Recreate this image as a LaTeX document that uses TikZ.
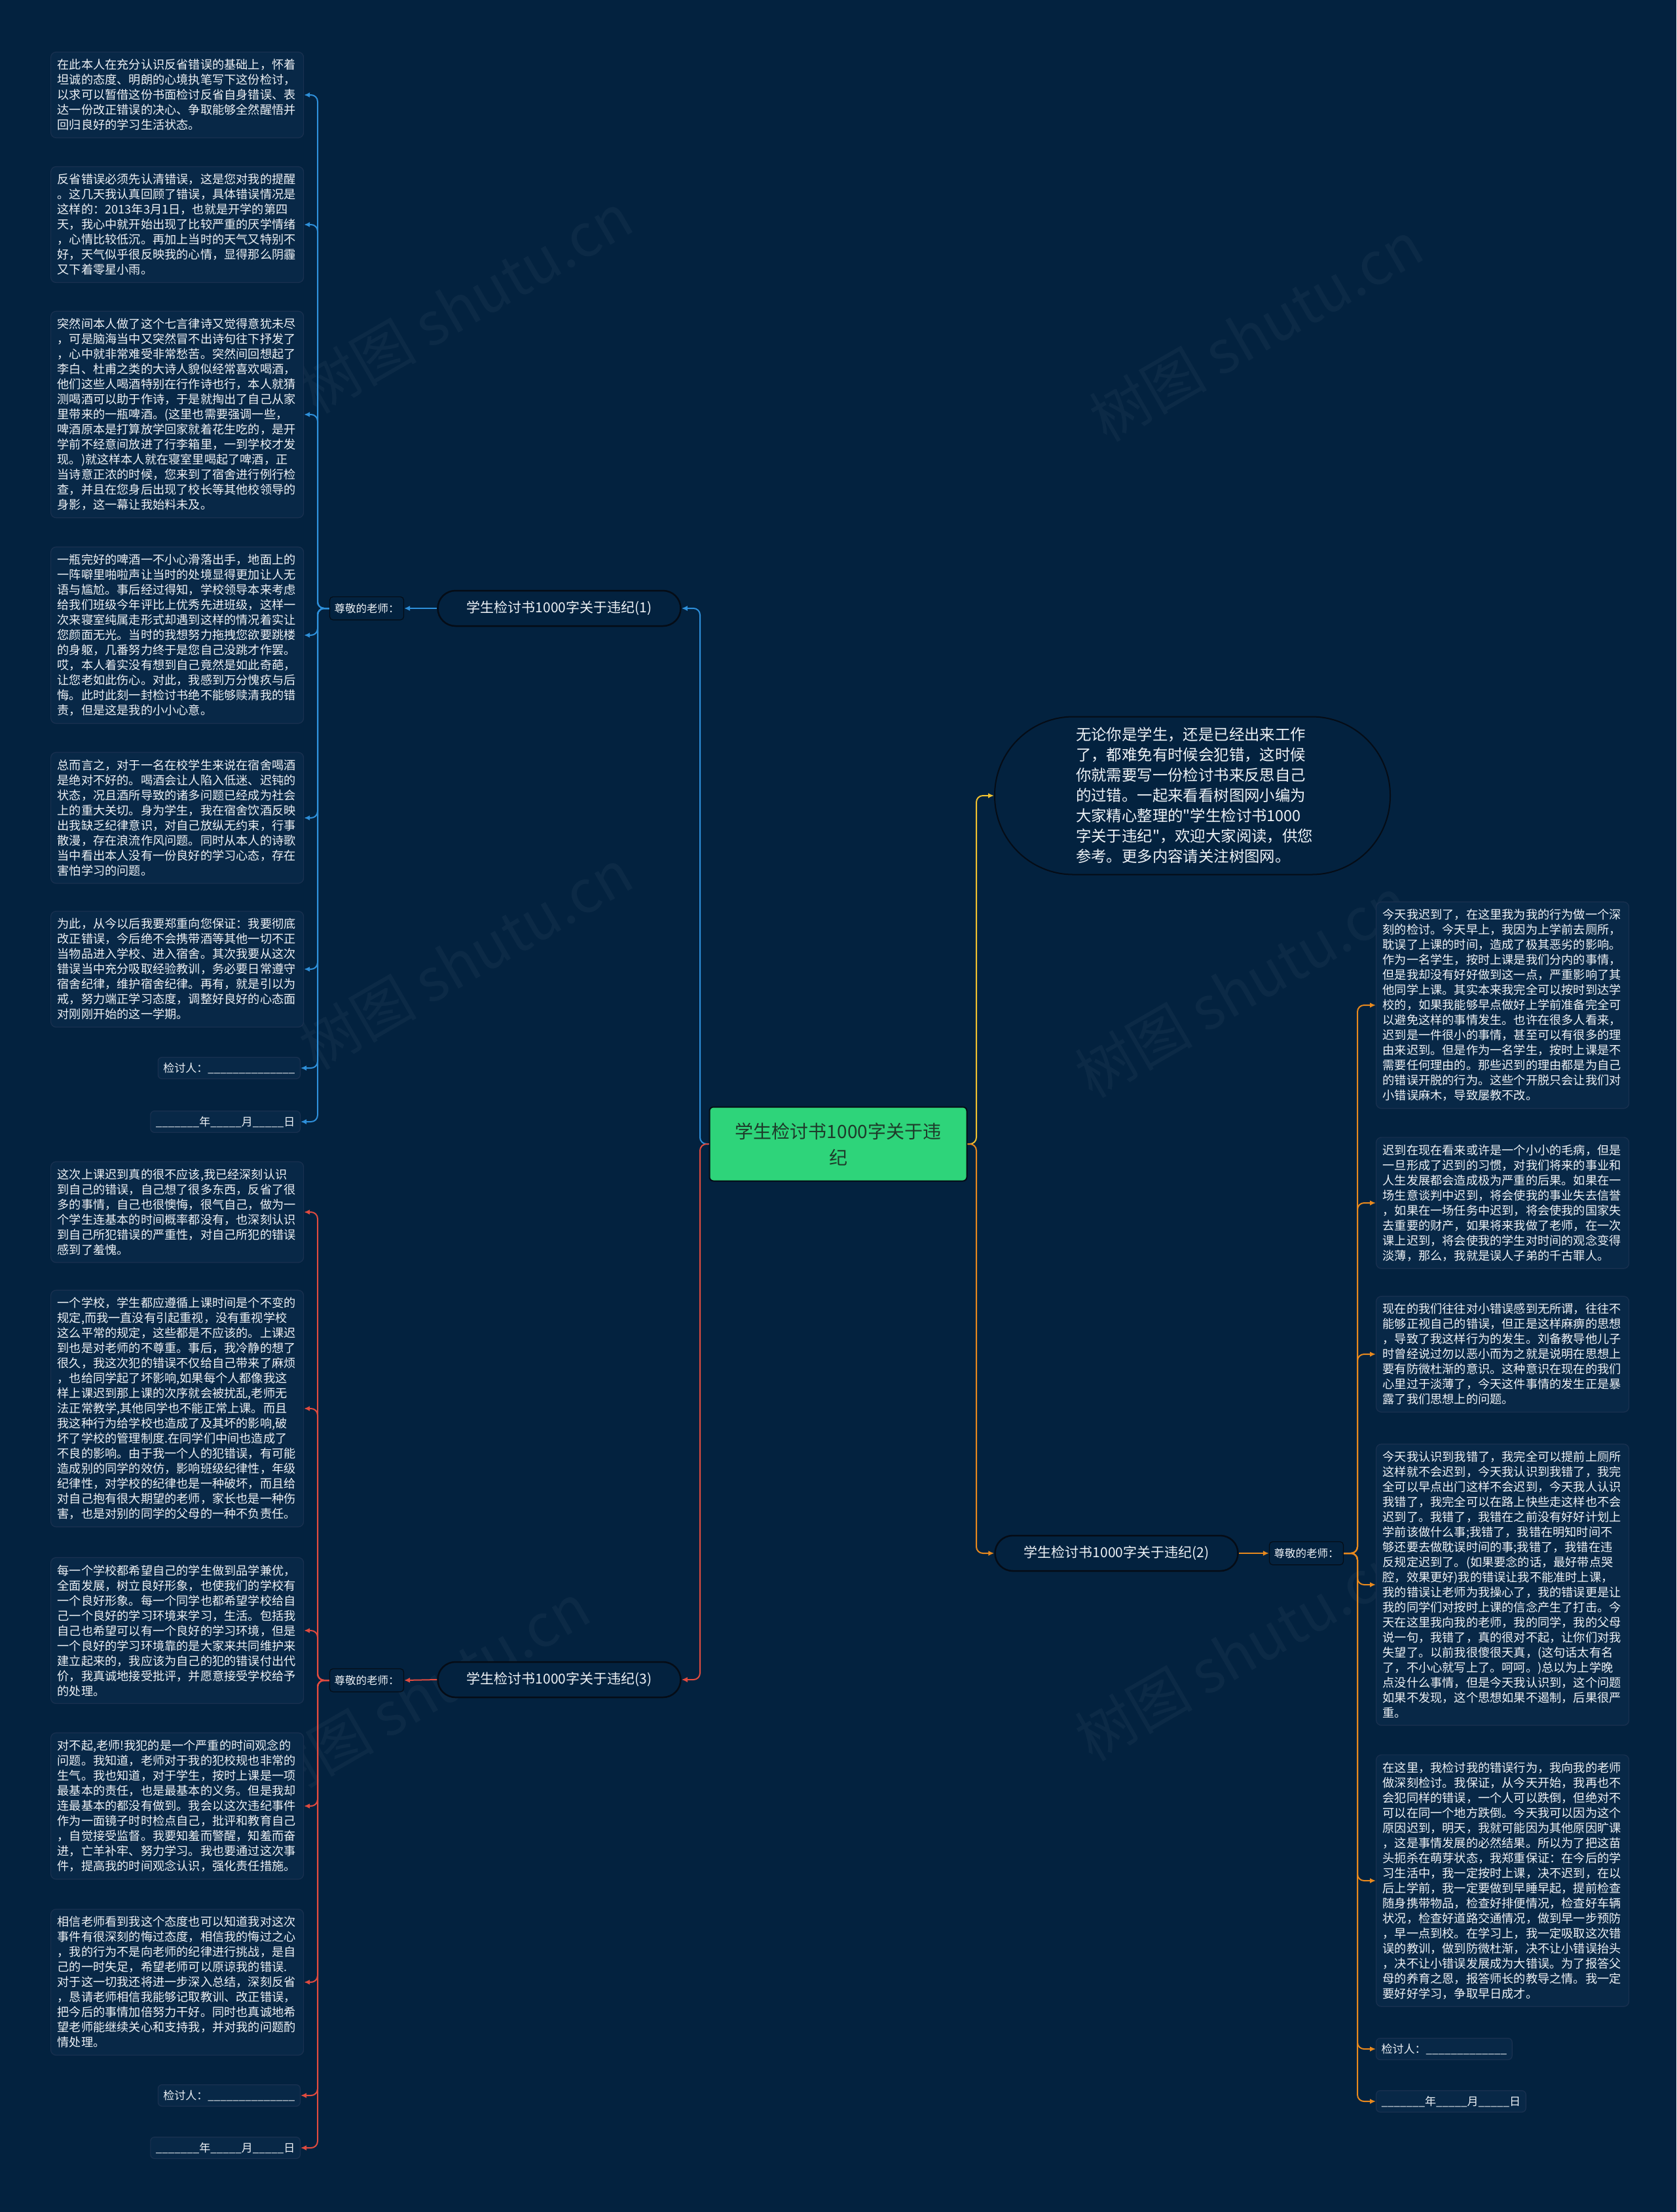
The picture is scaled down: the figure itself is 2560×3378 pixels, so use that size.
\documentclass[tikz,border=0pt]{standalone}
\usepackage{fontspec}
\setmainfont{Noto Sans CJK SC}[Ligatures=TeXOff]
\usetikzlibrary{arrows.meta}
\definecolor{bg}{HTML}{03223F}
\definecolor{boxfill}{HTML}{082847}
\definecolor{boxline}{HTML}{1A3150}
\definecolor{txtcol}{HTML}{EEF2F6}
\definecolor{cblue}{HTML}{2E8FD9}
\definecolor{cred}{HTML}{E04B3F}
\definecolor{corange}{HTML}{E8891E}
\definecolor{cyellow}{HTML}{F2C230}
\definecolor{cgreen}{HTML}{2ED47A}
\definecolor{pillline}{HTML}{050C16}
\definecolor{centertxt}{HTML}{1E3A2A}
\tikzset{
  txtbox/.style={draw=boxline, fill=boxfill, rounded corners=8pt, line width=1.2pt,
    inner xsep=10pt, inner ysep=11pt, text width=366pt, align=left,
    font=\fontsize{18.2}{23}\selectfont, text=txtcol},
  signbox/.style={draw=boxline, fill=boxfill, rounded corners=6pt, line width=1.2pt,
    inner xsep=8pt, inner ysep=8pt, font=\fontsize{17}{20}\selectfont, text=txtcol},
  labbox/.style={draw=pillline, fill=bg, line width=1.2pt, rounded corners=5pt, inner xsep=7pt, inner ysep=10pt,
    font=\fontsize{16.5}{20}\selectfont, text=txtcol},
  pill/.style={draw=pillline, fill=bg, line width=2.5pt, rounded corners=27pt,
    minimum width=371pt, minimum height=54pt, font=\fontsize{21}{24}\selectfont, text=txtcol},
  conn/.style={line width=2pt, rounded corners=10pt, -{Latex[length=9pt,width=8pt]}},
  wmark/.style={rotate=30, text=white, opacity=0.04, font=\fontsize{90}{90}\selectfont}
}
\begin{document}
\begin{tikzpicture}[x=1pt,y=-1pt]
\fill[bg] (0,0) rectangle (2560,3378);
\useasboundingbox (0,0) rectangle (2560,3378);

% watermarks
\foreach \p in {(711,463),(1918,506),(711,1465),(1896,1508),(646,2586),(1896,2521)}
  \node[wmark] at \p {树图 shutu.cn};

% central
\node[draw=pillline, line width=2pt, fill=cgreen, rounded corners=6pt, minimum width=393pt, minimum height=113pt, align=center,
  text=centertxt, font=\fontsize{28}{40}\selectfont] (center) at (1280,1747) {学生检讨书1000字关于违\\纪};

% intro
\node[draw=pillline, fill=bg, line width=2pt, rounded corners=120pt, minimum width=604pt,
  minimum height=241pt, text width=356pt, align=left, text=txtcol,
  font=\fontsize{23.4}{31}\selectfont] (intro) at (1821,1215)
  {无论你是学生，还是已经出来工作\\了，都难免有时候会犯错，这时候\\你就需要写一份检讨书来反思自己\\的过错。一起来看看树图网小编为\\大家精心整理的"学生检讨书1000\\字关于违纪"，欢迎大家阅读，供您\\参考。更多内容请关注树图网。};

% branches
\node[pill] (br1) at (854,929) {学生检讨书1000字关于违纪(1)};
\node[pill] (br3) at (854,2565) {学生检讨书1000字关于违纪(3)};
\node[pill] (br2) at (1705,2372) {学生检讨书1000字关于违纪(2)};
\node[labbox] (lab1) at (560,929) {尊敬的老师：};
\node[labbox] (lab3) at (560,2566) {尊敬的老师：};
\node[labbox] (lab2) at (1995,2372) {尊敬的老师：};

% left top blocks
\node[txtbox, anchor=west] (A1) at (77,145) {在此本人在充分认识反省错误的基础上，怀着\\坦诚的态度、明朗的心境执笔写下这份检讨，\\以求可以暂借这份书面检讨反省自身错误、表\\达一份改正错误的决心、争取能够全然醒悟并\\回归良好的学习生活状态。};
\node[txtbox, anchor=west] (A2) at (77,343) {反省错误必须先认清错误，这是您对我的提醒\\。这几天我认真回顾了错误，具体错误情况是\\这样的：2013年3月1日，也就是开学的第四\\天，我心中就开始出现了比较严重的厌学情绪\\，心情比较低沉。再加上当时的天气又特别不\\好，天气似乎很反映我的心情，显得那么阴霾\\又下着零星小雨。};
\node[txtbox, anchor=west] (A3) at (77,633) {突然间本人做了这个七言律诗又觉得意犹未尽\\，可是脑海当中又突然冒不出诗句往下抒发了\\，心中就非常难受非常愁苦。突然间回想起了\\李白、杜甫之类的大诗人貌似经常喜欢喝酒，\\他们这些人喝酒特别在行作诗也行，本人就猜\\测喝酒可以助于作诗，于是就掏出了自己从家\\里带来的一瓶啤酒。(这里也需要强调一些，\\啤酒原本是打算放学回家就着花生吃的，是开\\学前不经意间放进了行李箱里，一到学校才发\\现。)就这样本人就在寝室里喝起了啤酒，正\\当诗意正浓的时候，您来到了宿舍进行例行检\\查，并且在您身后出现了校长等其他校领导的\\身影，这一幕让我始料未及。};
\node[txtbox, anchor=west] (A4) at (77,970) {一瓶完好的啤酒一不小心滑落出手，地面上的\\一阵噼里啪啦声让当时的处境显得更加让人无\\语与尴尬。事后经过得知，学校领导本来考虑\\给我们班级今年评比上优秀先进班级，这样一\\次来寝室纯属走形式却遇到这样的情况着实让\\您颜面无光。当时的我想努力拖拽您欲要跳楼\\的身躯，几番努力终于是您自己没跳才作罢。\\哎，本人着实没有想到自己竟然是如此奇葩，\\让您老如此伤心。对此，我感到万分愧疚与后\\悔。此时此刻一封检讨书绝不能够赎清我的错\\责，但是这是我的小小心意。};
\node[txtbox, anchor=west] (A5) at (77,1249) {总而言之，对于一名在校学生来说在宿舍喝酒\\是绝对不好的。喝酒会让人陷入低迷、迟钝的\\状态，况且酒所导致的诸多问题已经成为社会\\上的重大关切。身为学生，我在宿舍饮酒反映\\出我缺乏纪律意识，对自己放纵无约束，行事\\散漫，存在浪流作风问题。同时从本人的诗歌\\当中看出本人没有一份良好的学习心态，存在\\害怕学习的问题。};
\node[txtbox, anchor=west] (A6) at (77,1480) {为此，从今以后我要郑重向您保证：我要彻底\\改正错误，今后绝不会携带酒等其他一切不正\\当物品进入学校、进入宿舍。其次我要从这次\\错误当中充分吸取经验教训，务必要日常遵守\\宿舍纪律，维护宿舍纪律。再有，就是引以为\\戒，努力端正学习态度，调整好良好的心态面\\对刚刚开始的这一学期。};
\node[signbox, anchor=east] (A7) at (459,1631) {检讨人：\_\_\_\_\_\_\_\_\_\_\_\_\_\_};
\node[signbox, anchor=east] (A8) at (459,1713) {\_\_\_\_\_\_\_年\_\_\_\_\_月\_\_\_\_\_日};

% left bottom blocks
\node[txtbox, anchor=west] (C1) at (77,1851) {这次上课迟到真的很不应该,我已经深刻认识\\到自己的错误，自己想了很多东西，反省了很\\多的事情，自己也很懊悔，很气自己，做为一\\个学生连基本的时间概率都没有，也深刻认识\\到自己所犯错误的严重性，对自己所犯的错误\\感到了羞愧。};
\node[txtbox, anchor=west] (C2) at (77,2151) {一个学校，学生都应遵循上课时间是个不变的\\规定,而我一直没有引起重视，没有重视学校\\这么平常的规定，这些都是不应该的。上课迟\\到也是对老师的不尊重。事后，我冷静的想了\\很久，我这次犯的错误不仅给自己带来了麻烦\\，也给同学起了坏影响,如果每个人都像我这\\样上课迟到那上课的次序就会被扰乱,老师无\\法正常教学,其他同学也不能正常上课。而且\\我这种行为给学校也造成了及其坏的影响,破\\坏了学校的管理制度.在同学们中间也造成了\\不良的影响。由于我一个人的犯错误，有可能\\造成别的同学的效仿，影响班级纪律性，年级\\纪律性，对学校的纪律也是一种破坏，而且给\\对自己抱有很大期望的老师，家长也是一种伤\\害，也是对别的同学的父母的一种不负责任。};
\node[txtbox, anchor=west] (C3) at (77,2490) {每一个学校都希望自己的学生做到品学兼优，\\全面发展，树立良好形象，也使我们的学校有\\一个良好形象。每一个同学也都希望学校给自\\己一个良好的学习环境来学习，生活。包括我\\自己也希望可以有一个良好的学习环境，但是\\一个良好的学习环境靠的是大家来共同维护来\\建立起来的，我应该为自己的犯的错误付出代\\价，我真诚地接受批评，并愿意接受学校给予\\的处理。};
\node[txtbox, anchor=west] (C4) at (77,2758) {对不起,老师!我犯的是一个严重的时间观念的\\问题。我知道，老师对于我的犯校规也非常的\\生气。我也知道，对于学生，按时上课是一项\\最基本的责任，也是最基本的义务。但是我却\\连最基本的都没有做到。我会以这次违纪事件\\作为一面镜子时时检点自己，批评和教育自己\\，自觉接受监督。我要知羞而警醒，知羞而奋\\进，亡羊补牢、努力学习。我也要通过这次事\\件，提高我的时间观念认识，强化责任措施。};
\node[txtbox, anchor=west] (C5) at (77,3027) {相信老师看到我这个态度也可以知道我对这次\\事件有很深刻的悔过态度，相信我的悔过之心\\，我的行为不是向老师的纪律进行挑战，是自\\己的一时失足，希望老师可以原谅我的错误.\\对于这一切我还将进一步深入总结，深刻反省\\，恳请老师相信我能够记取教训、改正错误，\\把今后的事情加倍努力干好。同时也真诚地希\\望老师能继续关心和支持我，并对我的问题酌\\情处理。};
\node[signbox, anchor=east] (C6) at (459,3200) {检讨人：\_\_\_\_\_\_\_\_\_\_\_\_\_\_};
\node[signbox, anchor=east] (C7) at (459,3280) {\_\_\_\_\_\_\_年\_\_\_\_\_月\_\_\_\_\_日};

% right blocks
\node[txtbox, anchor=west] (B1) at (2101,1535) {今天我迟到了，在这里我为我的行为做一个深\\刻的检讨。今天早上，我因为上学前去厕所，\\耽误了上课的时间，造成了极其恶劣的影响。\\作为一名学生，按时上课是我们分内的事情，\\但是我却没有好好做到这一点，严重影响了其\\他同学上课。其实本来我完全可以按时到达学\\校的，如果我能够早点做好上学前准备完全可\\以避免这样的事情发生。也许在很多人看来，\\迟到是一件很小的事情，甚至可以有很多的理\\由来迟到。但是作为一名学生，按时上课是不\\需要任何理由的。那些迟到的理由都是为自己\\的错误开脱的行为。这些个开脱只会让我们对\\小错误麻木，导致屡教不改。};
\node[txtbox, anchor=west] (B2) at (2101,1837) {迟到在现在看来或许是一个小小的毛病，但是\\一旦形成了迟到的习惯，对我们将来的事业和\\人生发展都会造成极为严重的后果。如果在一\\场生意谈判中迟到，将会使我的事业失去信誉\\，如果在一场任务中迟到，将会使我的国家失\\去重要的财产，如果将来我做了老师，在一次\\课上迟到，将会使我的学生对时间的观念变得\\淡薄，那么，我就是误人子弟的千古罪人。};
\node[txtbox, anchor=west] (B3) at (2101,2068) {现在的我们往往对小错误感到无所谓，往往不\\能够正视自己的错误，但正是这样麻痹的思想\\，导致了我这样行为的发生。刘备教导他儿子\\时曾经说过勿以恶小而为之就是说明在思想上\\要有防微杜渐的意识。这种意识在现在的我们\\心里过于淡薄了，今天这件事情的发生正是暴\\露了我们思想上的问题。};
\node[txtbox, anchor=west] (B4) at (2101,2420) {今天我认识到我错了，我完全可以提前上厕所\\这样就不会迟到，今天我认识到我错了，我完\\全可以早点出门这样不会迟到，今天我人认识\\我错了，我完全可以在路上快些走这样也不会\\迟到了。我错了，我错在之前没有好好计划上\\学前该做什么事;我错了，我错在明知时间不\\够还要去做耽误时间的事;我错了，我错在违\\反规定迟到了。(如果要念的话，最好带点哭\\腔，效果更好)我的错误让我不能准时上课，\\我的错误让老师为我操心了，我的错误更是让\\我的同学们对按时上课的信念产生了打击。今\\天在这里我向我的老师，我的同学，我的父母\\说一句，我错了，真的很对不起，让你们对我\\失望了。以前我很傻很天真，(这句话太有名\\了，不小心就写上了。呵呵。)总以为上学晚\\点没什么事情，但是今天我认识到，这个问题\\如果不发现，这个思想如果不遏制，后果很严\\重。};
\node[txtbox, anchor=west] (B5) at (2101,2872) {在这里，我检讨我的错误行为，我向我的老师\\做深刻检讨。我保证，从今天开始，我再也不\\会犯同样的错误，一个人可以跌倒，但绝对不\\可以在同一个地方跌倒。今天我可以因为这个\\原因迟到，明天，我就可能因为其他原因旷课\\，这是事情发展的必然结果。所以为了把这苗\\头扼杀在萌芽状态，我郑重保证：在今后的学\\习生活中，我一定按时上课，决不迟到，在以\\后上学前，我一定要做到早睡早起，提前检查\\随身携带物品，检查好排便情况，检查好车辆\\状况，检查好道路交通情况，做到早一步预防\\，早一点到校。在学习上，我一定吸取这次错\\误的教训，做到防微杜渐，决不让小错误抬头\\，决不让小错误发展成为大错误。为了报答父\\母的养育之恩，报答师长的教导之情。我一定\\要好好学习，争取早日成才。};
\node[signbox, anchor=west] (B6) at (2101,3129) {检讨人：\_\_\_\_\_\_\_\_\_\_\_\_\_};
\node[signbox, anchor=west] (B7) at (2101,3209) {\_\_\_\_\_\_\_年\_\_\_\_\_月\_\_\_\_\_日};

% bus coordinates
\coordinate (cl) at (1069,1747);
\coordinate (cr) at (1491,1747);
\coordinate (busA) at (485,929);
\coordinate (busC) at (485,2566);
\coordinate (busB) at (2073,2372);

% center connectors
\draw[conn, cblue] (center.west) -- (cl) |- (br1.east);
\draw[conn, cred] (center.west) -- (cl) |- (br3.east);
\draw[conn, cyellow] (center.east) -- (cr) |- (intro.west);
\draw[conn, corange] (center.east) -- (cr) |- (br2.west);

% branch to label
\draw[conn, cblue, rounded corners=0pt] (br1.west) -- (lab1.east);
\draw[conn, cred, rounded corners=0pt] (br3.west) -- (lab3.east);
\draw[conn, corange, rounded corners=0pt] (br2.east) -- (lab2.west);

% label to children
\foreach \n in {A1,A2,A3,A4,A5,A6,A7,A8}
  \draw[conn, cblue] (lab1.west) -- (busA) |- (\n.east);
\foreach \n in {C1,C2,C3,C4,C5,C6,C7}
  \draw[conn, cred] (lab3.west) -- (busC) |- (\n.east);
\foreach \n in {B1,B2,B3,B4,B5,B6,B7}
  \draw[conn, corange] (lab2.east) -- (busB) |- (\n.west);
\end{tikzpicture}
\end{document}
